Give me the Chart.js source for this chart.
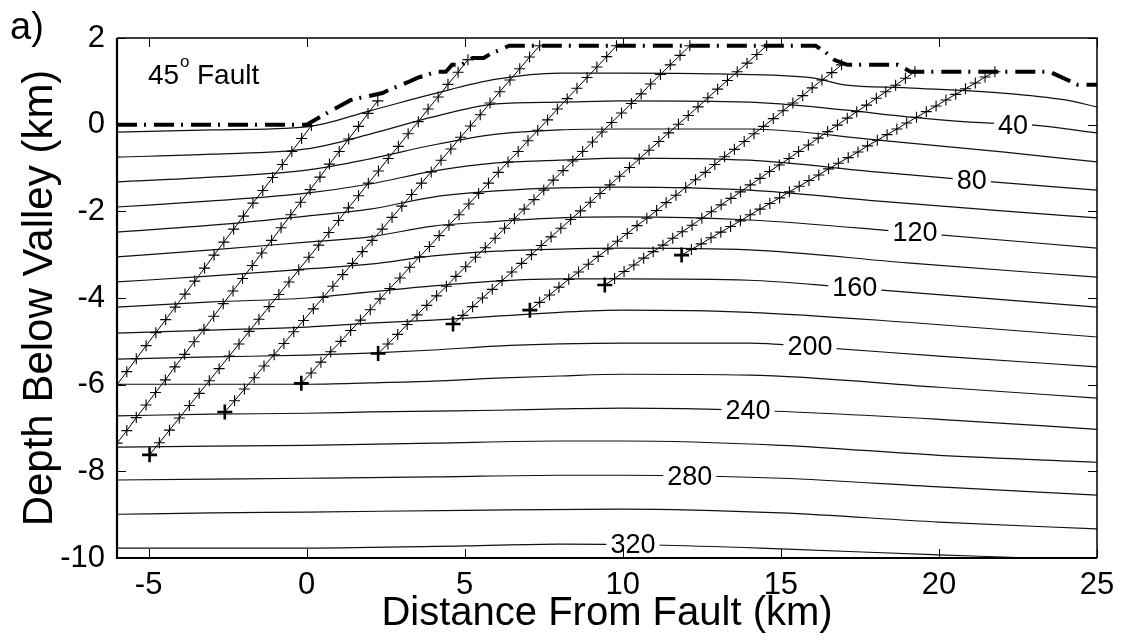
<!DOCTYPE html>
<html>
<head>
<meta charset="utf-8">
<script src="https://cdn.jsdelivr.net/npm/chart.js@4.4.1/dist/chart.umd.min.js"></script>
<style>
html, body { margin: 0; padding: 0; background: #fff; }
#wrap { width: 1124px; height: 640px; }
</style>
</head>
<body>
<div id="wrap"><canvas id="faultChart" width="1124" height="640"></canvas></div>
<script>
/* Axis ticks */
const xTicks = [-5, 0, 5, 10, 15, 20, 25];
const yTicks = [-10, -8, -6, -4, -2, 0, 2];

/* Isotherms, [distance km, depth km] */
const c20 = [[-6,-0.17],[-3,-0.12],[0,-0.05],[2,0.32],[4,0.71],[6,1.05],[8,1.19],[10,1.19],[13,1.17],[16,1.08],[17,0.92],[19,0.85],[22,0.73],[24,0.57],[25,0.41]];
const c40 = [[-6,-0.75],[-3,-0.68],[0,-0.56],[2,-0.22],[4,0.18],[6,0.48],[8,0.52],[10,0.55],[14,0.52],[17,0.34],[19,0.18],[21,0.06],[23,-0.01],[25,-0.19]];
const c60 = [[-6,-1.32],[-3,-1.21],[0,-1.05],[2,-0.79],[4,-0.47],[6,-0.22],[8,-0.12],[10,-0.10],[14,-0.10],[18,-0.35],[22,-0.63],[25,-0.86]];
const c80 = [[-6,-1.90],[-3,-1.76],[0,-1.58],[2,-1.37],[4,-1.07],[6,-0.88],[8,-0.82],[10,-0.77],[14,-0.82],[18,-1.09],[21,-1.28],[25,-1.51]];
const c100 = [[-6,-2.48],[-3,-2.32],[0,-2.11],[2,-1.95],[4,-1.67],[6,-1.53],[8,-1.46],[10,-1.44],[14,-1.51],[18,-1.76],[22,-1.99],[25,-2.15]];
const c120 = [[-6,-3.05],[-3,-2.89],[0,-2.71],[2,-2.59],[4,-2.34],[6,-2.23],[8,-2.15],[10,-2.13],[14,-2.20],[19,-2.48],[25,-2.85]];
const c140 = [[-6,-3.63],[-3,-3.49],[0,-3.33],[2,-3.22],[4,-3.03],[6,-2.92],[8,-2.87],[10,-2.85],[14,-2.89],[19,-3.19],[25,-3.52]];
const c160 = [[-6,-4.21],[-3,-4.09],[0,-4.00],[2,-3.86],[4,-3.72],[6,-3.61],[8,-3.56],[10,-3.56],[14,-3.59],[17,-3.75],[21,-3.98],[25,-4.21]];
const c180 = [[-6,-4.81],[-3,-4.74],[0,-4.67],[2,-4.58],[4,-4.51],[6,-4.42],[8,-4.33],[10,-4.28],[14,-4.33],[19,-4.56],[25,-4.90]];
const c200 = [[-6,-5.41],[-3,-5.36],[0,-5.32],[2,-5.27],[4,-5.20],[6,-5.11],[8,-5.06],[10,-5.04],[14,-5.04],[16,-5.13],[20,-5.34],[25,-5.59]];
const c220 = [[-6,-5.99],[-3,-5.99],[0,-5.99],[2,-5.96],[4,-5.92],[6,-5.85],[8,-5.80],[10,-5.76],[14,-5.78],[20,-6.06],[25,-6.31]];
const c240 = [[-6,-6.72],[-3,-6.68],[0,-6.66],[2,-6.63],[4,-6.61],[6,-6.59],[8,-6.56],[10,-6.54],[14,-6.59],[20,-6.80],[25,-7.03]];
const c260 = [[-6,-7.44],[-3,-7.42],[0,-7.40],[4,-7.35],[8,-7.30],[10,-7.30],[15,-7.40],[20,-7.63],[25,-7.79]];
const c280 = [[-6,-8.20],[-3,-8.18],[0,-8.16],[4,-8.13],[8,-8.09],[10,-8.09],[15,-8.16],[20,-8.36],[25,-8.55]];
const c300 = [[-6,-8.99],[-3,-8.96],[0,-8.94],[5,-8.90],[10,-8.87],[15,-8.96],[20,-9.17],[25,-9.33]];
const c320 = [[-6,-9.77],[0,-9.77],[5,-9.72],[8,-9.68],[11,-9.70],[15,-9.79],[20,-9.93],[23,-10.00],[25,-10.07]];

/* Contour labels */
const labelText = ['40', '80', '120', '160', '200', '240', '280', '320'];
const labelX = [22.34, 21.04, 19.24, 17.34, 15.92, 13.96, 12.12, 10.32];
const labelY = [-0.01, -1.28, -2.48, -3.76, -5.12, -6.60, -8.13, -9.70];

/* Valley / range surface */
const topoX = [-6, 0, 0.6, 1.4, 1.7, 2.4, 2.6, 3.2, 3.5, 4.1, 4.4, 4.6, 4.9, 5.25, 5.6, 5.85, 6.1, 6.4, 16.1, 16.4, 16.7, 17.1, 18.7, 19.1, 23.5, 23.8, 24.4, 25];
const topoY = [0, 0, 0.25, 0.57, 0.62, 0.73, 0.8, 0.98, 1.08, 1.22, 1.22, 1.38, 1.38, 1.54, 1.54, 1.65, 1.72, 1.82, 1.82, 1.68, 1.49, 1.38, 1.38, 1.22, 1.22, 1.12, 0.92, 0.92];

/* Particle paths, one "+" per time step */
const path1 = [[-6.00,-6.00],[-5.69,-5.70],[-5.39,-5.40],[-5.08,-5.10],[-4.77,-4.80],[-4.46,-4.50],[-4.16,-4.21],[-3.85,-3.91],[-3.54,-3.61],[-3.23,-3.31],[-2.93,-3.01],[-2.62,-2.71],[-2.31,-2.41],[-2.00,-2.11],[-1.70,-1.81],[-1.39,-1.52],[-1.08,-1.22],[-0.77,-0.92],[-0.47,-0.62],[-0.16,-0.32],[0.15,-0.02]];
const path2 = [[-6.00,-7.35],[-5.69,-7.06],[-5.39,-6.76],[-5.08,-6.47],[-4.78,-6.18],[-4.47,-5.89],[-4.17,-5.59],[-3.86,-5.30],[-3.56,-5.01],[-3.25,-4.72],[-2.94,-4.42],[-2.64,-4.13],[-2.33,-3.84],[-2.03,-3.55],[-1.72,-3.25],[-1.42,-2.96],[-1.11,-2.67],[-0.81,-2.38],[-0.50,-2.08],[-0.19,-1.79],[0.11,-1.50],[0.42,-1.21],[0.72,-0.91],[1.03,-0.62],[1.33,-0.33],[1.64,-0.04],[1.94,0.26],[2.25,0.55]];
const path3 = [[-4.97,-7.62],[-4.66,-7.34],[-4.34,-7.05],[-4.03,-6.77],[-3.71,-6.48],[-3.40,-6.20],[-3.08,-5.91],[-2.77,-5.63],[-2.45,-5.34],[-2.14,-5.06],[-1.82,-4.77],[-1.51,-4.49],[-1.19,-4.20],[-0.88,-3.92],[-0.56,-3.63],[-0.25,-3.35],[0.07,-3.06],[0.38,-2.78],[0.70,-2.49],[1.01,-2.21],[1.32,-1.92],[1.64,-1.64],[1.95,-1.35],[2.27,-1.07],[2.58,-0.78],[2.90,-0.50],[3.21,-0.21],[3.53,0.07],[3.84,0.36],[4.16,0.64],[4.47,0.93],[4.79,1.21],[5.10,1.50]];
const path4 = [[-2.59,-6.63],[-2.28,-6.37],[-1.97,-6.10],[-1.66,-5.84],[-1.35,-5.57],[-1.03,-5.31],[-0.72,-5.05],[-0.41,-4.78],[-0.10,-4.52],[0.21,-4.25],[0.52,-3.99],[0.83,-3.73],[1.14,-3.46],[1.45,-3.20],[1.76,-2.93],[2.07,-2.67],[2.39,-2.41],[2.70,-2.14],[3.01,-1.88],[3.32,-1.61],[3.63,-1.35],[3.94,-1.09],[4.25,-0.82],[4.56,-0.56],[4.87,-0.29],[5.18,-0.03],[5.49,0.23],[5.80,0.50],[6.11,0.76],[6.43,1.03],[6.74,1.29],[7.05,1.56],[7.37,1.82]];
const path5 = [[-0.17,-5.97],[0.14,-5.73],[0.45,-5.48],[0.76,-5.24],[1.08,-5.00],[1.39,-4.75],[1.70,-4.51],[2.01,-4.27],[2.32,-4.02],[2.63,-3.78],[2.95,-3.54],[3.26,-3.29],[3.57,-3.05],[3.88,-2.81],[4.19,-2.56],[4.50,-2.32],[4.82,-2.08],[5.13,-1.83],[5.44,-1.59],[5.75,-1.35],[6.06,-1.10],[6.37,-0.86],[6.69,-0.62],[7.00,-0.37],[7.31,-0.13],[7.62,0.11],[7.93,0.36],[8.24,0.60],[8.55,0.84],[8.87,1.09],[9.18,1.33],[9.49,1.57],[9.80,1.82]];
const path6 = [[2.26,-5.28],[2.57,-5.06],[2.88,-4.84],[3.18,-4.61],[3.49,-4.39],[3.80,-4.17],[4.11,-3.95],[4.42,-3.73],[4.72,-3.50],[5.03,-3.28],[5.34,-3.06],[5.65,-2.84],[5.96,-2.62],[6.26,-2.39],[6.57,-2.17],[6.88,-1.95],[7.19,-1.73],[7.50,-1.51],[7.80,-1.28],[8.11,-1.06],[8.42,-0.84],[8.73,-0.62],[9.04,-0.40],[9.34,-0.17],[9.65,0.05],[9.96,0.27],[10.27,0.49],[10.58,0.71],[10.88,0.94],[11.19,1.16],[11.50,1.38],[11.81,1.60],[12.12,1.82]];
const path7 = [[4.63,-4.60],[4.94,-4.40],[5.25,-4.20],[5.56,-4.00],[5.87,-3.80],[6.18,-3.60],[6.49,-3.40],[6.80,-3.20],[7.11,-3.00],[7.42,-2.79],[7.73,-2.59],[8.04,-2.39],[8.35,-2.19],[8.66,-1.99],[8.97,-1.79],[9.28,-1.59],[9.59,-1.39],[9.90,-1.19],[10.21,-0.99],[10.52,-0.79],[10.83,-0.59],[11.14,-0.39],[11.45,-0.19],[11.76,0.01],[12.07,0.21],[12.38,0.41],[12.69,0.62],[13.00,0.82],[13.31,1.02],[13.62,1.22],[13.93,1.42],[14.24,1.62],[14.55,1.82]];
const path8 = [[7.06,-4.28],[7.37,-4.10],[7.68,-3.93],[7.98,-3.75],[8.29,-3.57],[8.60,-3.40],[8.91,-3.22],[9.22,-3.04],[9.53,-2.87],[9.83,-2.69],[10.14,-2.51],[10.45,-2.33],[10.76,-2.16],[11.07,-1.98],[11.37,-1.80],[11.68,-1.63],[11.99,-1.45],[12.30,-1.27],[12.61,-1.10],[12.91,-0.92],[13.22,-0.74],[13.53,-0.57],[13.84,-0.39],[14.15,-0.21],[14.45,-0.04],[14.76,0.14],[15.07,0.32],[15.38,0.50],[15.69,0.67],[15.99,0.85],[16.30,1.03],[16.61,1.20],[16.92,1.38]];
const path9 = [[9.43,-3.70],[9.74,-3.55],[10.04,-3.39],[10.35,-3.24],[10.66,-3.08],[10.96,-2.93],[11.27,-2.78],[11.58,-2.62],[11.88,-2.47],[12.19,-2.32],[12.50,-2.16],[12.80,-2.01],[13.11,-1.85],[13.42,-1.70],[13.72,-1.55],[14.03,-1.39],[14.34,-1.24],[14.64,-1.08],[14.95,-0.93],[15.26,-0.78],[15.56,-0.62],[15.87,-0.47],[16.18,-0.31],[16.48,-0.16],[16.79,-0.01],[17.10,0.15],[17.40,0.30],[17.71,0.45],[18.02,0.61],[18.32,0.76],[18.63,0.91],[18.94,1.07],[19.24,1.22]];
const path10 = [[11.86,-3.01],[12.17,-2.88],[12.48,-2.75],[12.79,-2.61],[13.10,-2.48],[13.41,-2.35],[13.72,-2.22],[14.03,-2.08],[14.34,-1.95],[14.65,-1.82],[14.96,-1.69],[15.27,-1.55],[15.58,-1.42],[15.89,-1.29],[16.20,-1.16],[16.51,-1.02],[16.82,-0.89],[17.13,-0.76],[17.44,-0.63],[17.74,-0.49],[18.05,-0.36],[18.36,-0.23],[18.67,-0.10],[18.98,0.04],[19.29,0.17],[19.60,0.30],[19.91,0.43],[20.22,0.57],[20.53,0.70],[20.84,0.83],[21.15,0.96],[21.46,1.10],[21.77,1.22]];

/* Starting positions (bold crosses) */
const pathStarts = [[-4.97,-7.62],[-2.59,-6.63],[-0.17,-5.97],[2.26,-5.28],[4.63,-4.60],[7.06,-4.28],[9.43,-3.70],[11.86,-3.01]];

const FONT = '"Liberation Sans", Arial, Helvetica, sans-serif';

function toPoints(pts) {
	return pts.map(function (p) { return { x: p[0], y: p[1] }; });
}

var datasets = [];

/* topography on top of the rest */
datasets.push({
	data: topoX.map(function (x, i) { return { x: x, y: topoY[i] }; }),
	showLine: true,
	borderColor: '#000',
	borderWidth: 4,
	borderDash: [20, 7, 2, 8],
	borderCapStyle: 'butt',
	pointRadius: 0,
	tension: 0
});

datasets.push({
	data: toPoints(pathStarts),
	showLine: false,
	pointStyle: 'cross',
	pointRadius: 7.5,
	pointBorderWidth: 2.6,
	pointBorderColor: '#000',
	borderColor: '#000'
});

[path1, path2, path3, path4, path5, path6, path7, path8, path9, path10].forEach(function (p) {
	datasets.push({
		data: toPoints(p),
		showLine: true,
		borderColor: '#000',
		borderWidth: 1,
		pointStyle: 'cross',
		pointRadius: 5.5,
		pointBorderWidth: 1.1,
		pointBorderColor: '#000',
		tension: 0
	});
});

[c20, c40, c60, c80, c100, c120, c140, c160, c180, c200, c220, c240, c260, c280, c300, c320].forEach(function (c) {
	datasets.push({
		data: toPoints(c),
		showLine: true,
		borderColor: '#111',
		borderWidth: 1.2,
		pointRadius: 0,
		cubicInterpolationMode: 'monotone'
	});
});

/* contour labels, frame, inward ticks and panel texts */
const decorPlugin = {
	id: 'decor',
	afterDatasetsDraw: function (chart) {
		const ctx = chart.ctx;
		const xs = chart.scales.x, ys = chart.scales.y;
		ctx.save();
		ctx.font = '27px ' + FONT;
		ctx.textAlign = 'center';
		ctx.textBaseline = 'middle';
		for (var i = 0; i < labelText.length; i++) {
			var px = xs.getPixelForValue(labelX[i]);
			var py = ys.getPixelForValue(labelY[i]);
			var w = ctx.measureText(labelText[i]).width;
			ctx.fillStyle = '#fff';
			ctx.fillRect(px - w / 2 - 4, py - 8, w + 8, 16);
			ctx.fillStyle = '#000';
			ctx.fillText(labelText[i], px, py + 1);
		}
		ctx.restore();
	},
	afterDraw: function (chart) {
		const ctx = chart.ctx;
		const a = chart.chartArea;
		const xs = chart.scales.x, ys = chart.scales.y;
		ctx.save();
		ctx.strokeStyle = '#000';

		// inward ticks
		ctx.lineWidth = 1;
		ctx.beginPath();
		xTicks.forEach(function (v) {
			var px = Math.round(xs.getPixelForValue(v)) + 0.5;
			ctx.moveTo(px, a.bottom); ctx.lineTo(px, a.bottom - 9);
			ctx.moveTo(px, a.top); ctx.lineTo(px, a.top + 9);
		});
		yTicks.forEach(function (v) {
			var py = Math.round(ys.getPixelForValue(v)) + 0.5;
			ctx.moveTo(a.left, py); ctx.lineTo(a.left + 9, py);
			ctx.moveTo(a.right, py); ctx.lineTo(a.right - 9, py);
		});
		ctx.stroke();

		// frame
		ctx.lineWidth = 1.5;
		ctx.beginPath();
		ctx.moveTo(a.left, a.top); ctx.lineTo(a.right, a.top); ctx.lineTo(a.right, a.bottom);
		ctx.stroke();
		ctx.lineWidth = 2.2;
		ctx.beginPath();
		ctx.moveTo(a.left, a.top); ctx.lineTo(a.left, a.bottom); ctx.lineTo(a.right, a.bottom);
		ctx.stroke();

		// panel texts
		ctx.fillStyle = '#000';
		ctx.textAlign = 'left';
		ctx.textBaseline = 'alphabetic';
		ctx.font = '38px ' + FONT;
		ctx.fillText('a)', 10, 39);
		ctx.font = '28px ' + FONT;
		ctx.fillText('45', 148, 84);
		ctx.font = '17px ' + FONT;
		ctx.fillText('o', 180, 67);
		ctx.font = '28px ' + FONT;
		ctx.fillText('Fault', 197, 84);
		ctx.restore();
	}
};

window.addEventListener('DOMContentLoaded', function () {
	const ctx = document.getElementById('faultChart').getContext('2d');
	new Chart(ctx, {
		type: 'scatter',
		data: { datasets: datasets },
		options: {
			responsive: false,
			devicePixelRatio: 1,
			animation: false,
			events: [],
			layout: { padding: { left: 0, right: 27, top: 38, bottom: 0 } },
			plugins: { legend: { display: false }, tooltip: { enabled: false } },
			scales: {
				x: {
					type: 'linear',
					min: -6,
					max: 25,
					afterBuildTicks: function (s) { s.ticks = xTicks.map(function (v) { return { value: v }; }); },
					afterFit: function (s) { s.height = 82; },
					grid: { display: false, drawTicks: false },
					border: { display: false },
					ticks: { padding: 9, color: '#000', font: { size: 31, family: FONT }, maxRotation: 0 },
					title: { display: true, text: 'Distance From Fault (km)', color: '#000', font: { size: 40, family: FONT }, padding: { top: 0, bottom: 2 } }
				},
				y: {
					type: 'linear',
					min: -10,
					max: 2,
					afterBuildTicks: function (s) { s.ticks = yTicks.map(function (v) { return { value: v }; }); },
					afterFit: function (s) { s.width = 117; },
					grid: { display: false, drawTicks: false },
					border: { display: false },
					ticks: { padding: 12, color: '#000', font: { size: 31, family: FONT } },
					title: { display: true, text: 'Depth Below Valley (km)', color: '#000', font: { size: 42, family: FONT }, padding: { top: 15, bottom: 0 } }
				}
			}
		},
		plugins: [decorPlugin]
	});
}, false);
</script>
</body>
</html>
